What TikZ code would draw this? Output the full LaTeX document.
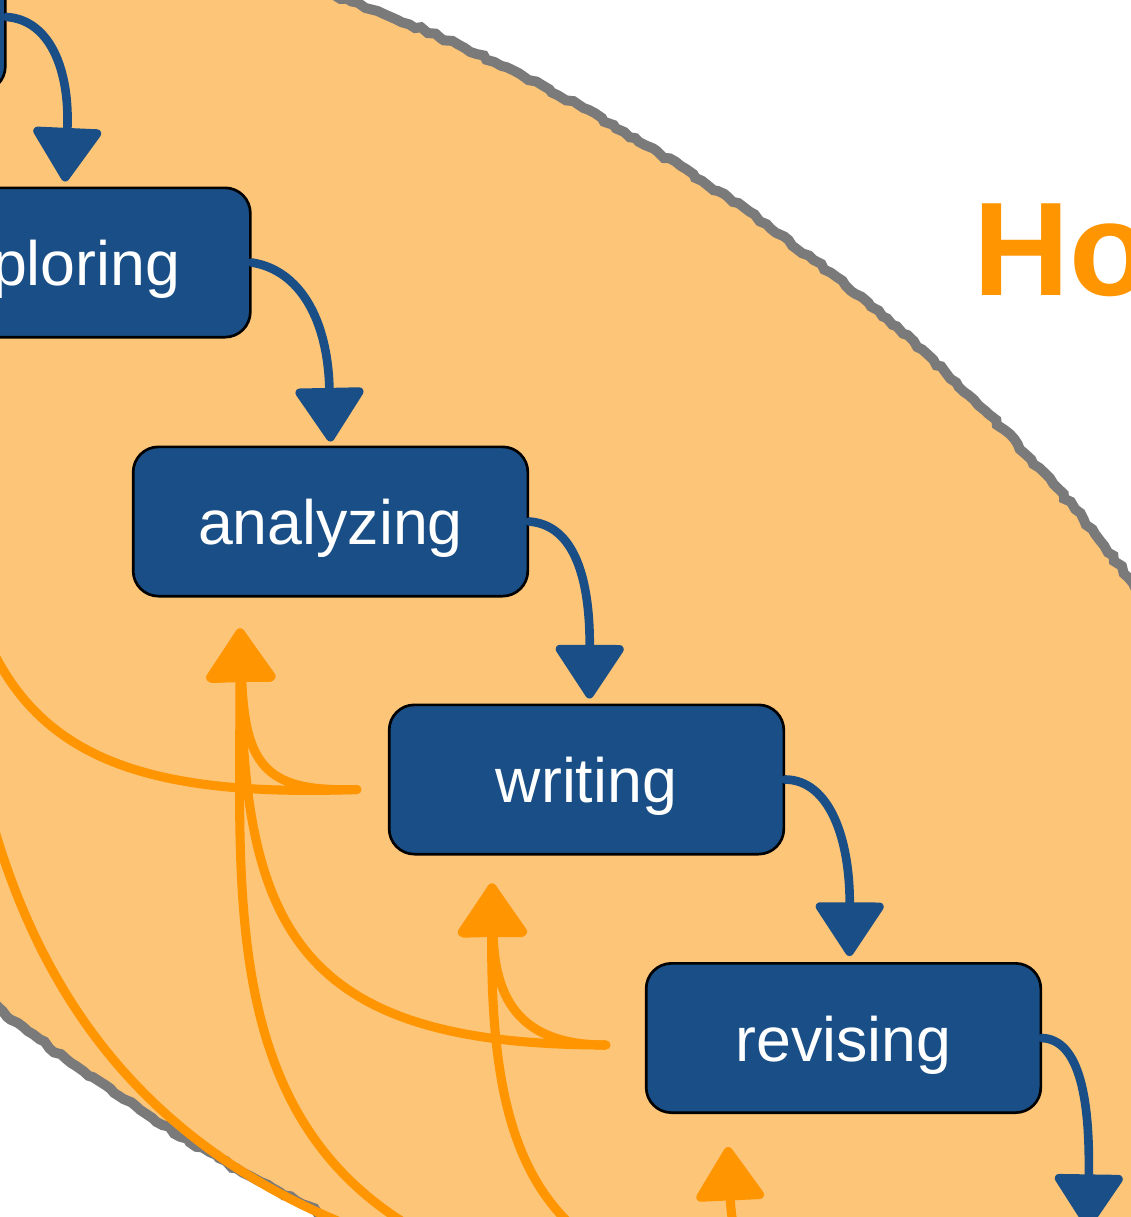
\documentclass[tikz,border=0pt]{standalone}
\usepackage{fontspec}
\setmainfont{Liberation Sans}
\usetikzlibrary{arrows.meta,calc,decorations.pathmorphing}
\definecolor{nodeblue}{HTML}{194F86}
\definecolor{ellfill}{HTML}{FDC578}
\definecolor{arrorange}{HTML}{FF9500}
\definecolor{bordergray}{HTML}{7A7A7A}
\begin{document}
\begin{tikzpicture}[x=0.75pt,y=-0.75pt,
  stage/.style={draw=black, line width=2pt, fill=nodeblue, rounded corners=19pt,
    minimum width=296pt, minimum height=112pt, inner sep=0pt, text=white,
    text height=35pt, text depth=0pt,
    font=\fontsize{47}{56}\selectfont},
  flowarrow/.style={draw=nodeblue, line width=6.5pt, line cap=round,
    -{Triangle[length=43pt,width=55pt,round]}},
  backarrow/.style={draw=arrorange, line width=6.8pt, line cap=round,
    -{Triangle[length=43pt,width=55pt,round]}},
  rough/.style={decorate, decoration={random steps, segment length=5pt, amplitude=1.4pt}},
  titletext/.style={font=\fontsize{100}{120}\selectfont\bfseries, text=arrorange, inner sep=0pt}
]
\useasboundingbox (0,0) rectangle (1131,1217);
\clip (0,0) rectangle (1131,1217);
\fill[white] (0,0) rectangle (1131,1217);

% big ellipse
\fill[ellfill, shift={(416,642)}, rotate=-34] (0,0) ellipse [x radius=750pt, y radius=407pt];
\draw[bordergray, line width=7.5pt, rough, shift={(416,642)}, rotate=-34] (0,0) ellipse [x radius=750pt, y radius=407pt];

% title
\node[titletext, anchor=base west] (title) at (973,295) {Ho};

% stages
\node[stage] (top) at (-192,17) {};
\node[stage] (exploring) at (53,262.5) {exploring};
\node[stage] (analyzing) at (330.5,521.5) {analyzing};
\node[stage] (writing) at (586.5,779.5) {writing};
\node[stage] (revising) at (843.5,1038) {revising};

% off-picture stage below revising
\coordinate (nextw) at (864,1303);
\coordinate (nexttip) at (1088,1228);

% tips of the feedback arrows
\coordinate (exptip) at ($(exploring.south)+(-108,31)$);
\coordinate (anatip) at ($(analyzing.south)+(-90.5,31)$);
\coordinate (writip) at ($(writing.south)+(-94.5,28)$);
\coordinate (revtip) at ($(revising.south)+(-115.5,33)$);
\coordinate (wrout) at ($(writing.west)+(-31,10)$);
\coordinate (rvout) at ($(revising.west)+(-39,7)$);

% feedback arrows
\draw[backarrow] (wrout) .. controls (270,792) and (245,770) .. (anatip);
\draw[backarrow] (wrout) .. controls (60,800) and (-40,720) .. (exptip);
\draw[backarrow] (rvout) .. controls (300,1045) and (245,930) .. (anatip);
\draw[backarrow] (rvout) .. controls (530,1045) and (495,1010) .. (writip);
\draw[backarrow] (nextw) .. controls (760,1303) and (733,1260) .. (revtip);
\draw[backarrow] (nextw) .. controls (560,1300) and (490,1200) .. (writip);
\draw[backarrow] (nextw) .. controls (200,1330) and (240,1000) .. (anatip);
\draw[backarrow] (nextw) .. controls (90,1310) and (-50,950) .. (exptip);

% forward arrows
\draw[flowarrow] (top.east) .. controls (50,20) and (70,70) .. ($(exploring.north)+(12,-5)$);
\draw[flowarrow] (exploring.east) .. controls (300,270) and (328,320) .. ($(analyzing.north)+(0,-4)$);
\draw[flowarrow] (analyzing.east) .. controls (575,525) and (590,580) .. ($(writing.north)+(3,-5)$);
\draw[flowarrow] (writing.east) .. controls (830,780) and (850,840) .. ($(revising.north)+(6,-6)$);
\draw[flowarrow] (revising.east) .. controls (1080,1040) and (1090,1100) .. (nexttip);
\end{tikzpicture}
\end{document}
